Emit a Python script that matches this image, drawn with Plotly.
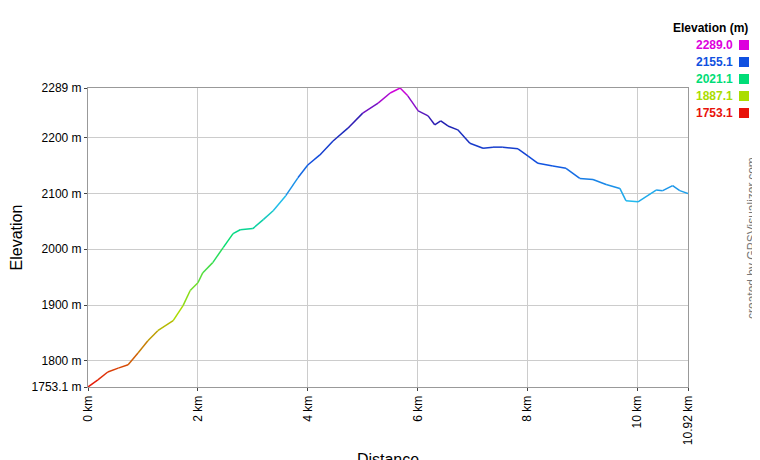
import plotly.graph_objects as go
from plotly.colors import sample_colorscale

# profile: distance (km) and elevation (m)
dist_km = [0.0, 0.18, 0.36, 0.55, 0.73, 0.91, 1.09, 1.27, 1.55, 1.73, 1.86, 2.0, 2.09, 2.27,
           2.46, 2.64, 2.77, 3.0, 3.19, 3.37, 3.6, 3.82, 4.0, 4.22, 4.46, 4.73, 5.0, 5.28,
           5.5, 5.68, 5.82, 6.01, 6.19, 6.31, 6.42, 6.55, 6.73, 6.95, 7.19, 7.37, 7.55,
           7.826, 8.01, 8.19, 8.46, 8.7, 8.95, 9.19, 9.43, 9.68, 9.79, 10.01, 10.34, 10.46,
           10.64, 10.77, 10.92]
elev_m = [1753.1, 1766, 1780, 1787, 1793, 1814, 1836, 1854, 1872, 1899, 1926, 1940, 1958,
          1976, 2003, 2028, 2035, 2037, 2053, 2069, 2096, 2128, 2151, 2169, 2194, 2217,
          2244, 2262, 2280, 2289, 2275, 2248, 2239, 2223, 2230, 2221, 2214, 2190, 2181,
          2183, 2183, 2180, 2167, 2154, 2149, 2145, 2127, 2125, 2116, 2109, 2087, 2085,
          2106, 2105, 2114, 2105, 2100]

legend_vals = [2289.0, 2155.1, 2021.1, 1887.1, 1753.1]
y_ticks = [1753.1, 1800, 1900, 2000, 2100, 2200, 2289]
y_labels = ["1753.1 m", "1800 m", "1900 m", "2000 m", "2100 m", "2200 m", "2289 m"]
x_ticks = [0, 2, 4, 6, 8, 10, 10.92]
x_labels = ["0 km", "2 km", "4 km", "6 km", "8 km", "10 km", "10.92 km"]

lo, hi = 1753.1, 2289.0
cscale = [[0, "#e8120a"], [0.25, "#aadd00"], [0.5, "#00dd77"], [0.62, "#22bbee"],
          [0.75, "#1050e0"], [0.88, "#2020b0"], [1, "#dd00dd"]]

def col(v):
    return sample_colorscale(cscale, [(v - lo) / (hi - lo)])[0]

def px_x(p):
    return (p - 80) / 600

def px_y(p):
    return (379 - p) / 299

fig = go.Figure()
for i in range(len(dist_km) - 1):
    mid = (elev_m[i] + elev_m[i + 1]) / 2
    fig.add_trace(go.Scatter(x=dist_km[i:i + 2], y=elev_m[i:i + 2], mode="lines",
                             line=dict(color=col(mid), width=1.5), showlegend=False,
                             hoverinfo="skip"))

fig.update_layout(
    width=760, height=460,
    margin=dict(l=80, r=80, t=80, b=81, autoexpand=False),
    plot_bgcolor="white", paper_bgcolor="white",
    font=dict(family="Liberation Sans, Arial, sans-serif", size=12, color="black"),
    xaxis=dict(range=[0, 10.92], tickvals=x_ticks, ticktext=x_labels, tickangle=-90,
               showgrid=True, gridcolor="#cccccc", showline=True, linecolor="#999999",
               mirror=True, zeroline=False, ticks="outside", ticklen=3,
               title=dict(text="Distance", font=dict(size=16), standoff=10)),
    yaxis=dict(range=[lo, hi], tickvals=y_ticks, ticktext=y_labels,
               showgrid=True, gridcolor="#cccccc", showline=True, linecolor="#999999",
               mirror=True, zeroline=False, ticks="outside", ticklen=3,
               title=dict(text="Elevation", font=dict(size=16), standoff=5)),
)

fig.add_annotation(x=px_x(742), y=px_y(20), xref="paper", yref="paper",
                   text="<b>Elevation (m)</b>", showarrow=False, xanchor="right",
                   yanchor="middle", font=dict(size=12))
for k, v in enumerate(legend_vals):
    ypx = 37 + k * 17
    fig.add_annotation(x=px_x(727), y=px_y(ypx), xref="paper", yref="paper",
                       text=f"<b>{v:.1f}</b>", showarrow=False, xanchor="right",
                       yanchor="middle", font=dict(size=12, color=col(v)))
    fig.add_shape(type="rect", xref="paper", yref="paper",
                  x0=px_x(731), x1=px_x(741), y0=px_y(ypx + 5), y1=px_y(ypx - 5),
                  fillcolor=col(v), line=dict(width=0))

fig.add_annotation(x=px_x(753), y=px_y(230), xref="paper", yref="paper",
                   text="created by GPSVisualizer.com", textangle=-90, showarrow=False,
                   font=dict(size=12, color="#777777"))

fig.write_html("out.html")
